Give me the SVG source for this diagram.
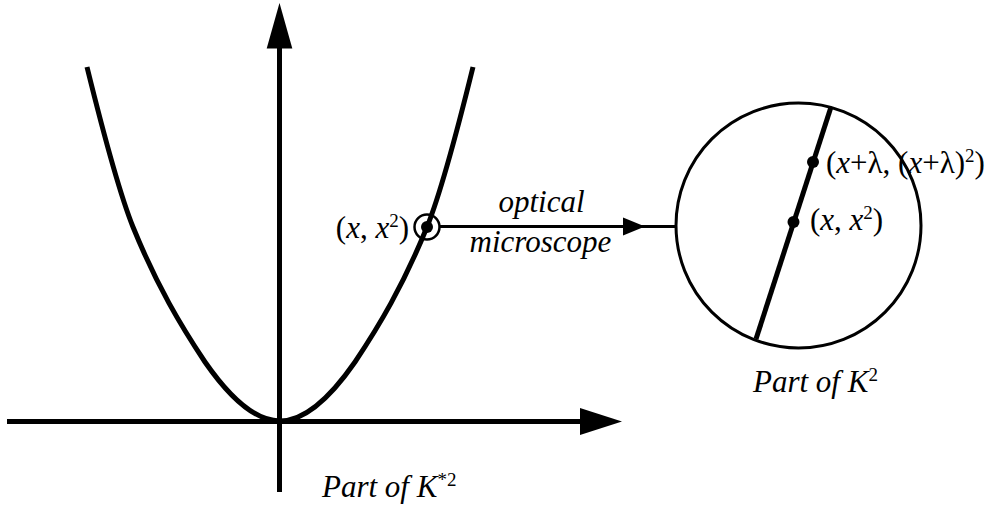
<svg xmlns="http://www.w3.org/2000/svg" width="997" height="506" viewBox="0 0 997 506" font-family="'Liberation Serif', 'Times New Roman', serif">
<style>
.t{font-family:'Liberation Serif','Times New Roman',serif;font-size:31px;fill:#000}
.it{font-style:italic}
.sup{font-size:19px;font-style:normal}
.thick{stroke:#000;stroke-width:5;fill:none}
.thin{stroke:#000;stroke-width:3;fill:none}
</style>
<rect width="997" height="506" fill="#fff"/>
<g id="connectors">
  <g id="x-axis">
    <line x1="7" y1="421.5" x2="584" y2="421.5" class="thick"/>
    <polygon points="580,408 580,435 622,421.5" fill="#000"/>
  </g>
  <g id="y-axis">
    <line x1="279.5" y1="492" x2="279.5" y2="44" class="thick"/>
    <polygon points="279.5,3 266.7,48.5 292.3,48.5" fill="#000"/>
  </g>
  <g id="microscope-arrow">
    <line x1="440" y1="226.5" x2="628" y2="226.5" class="thin"/>
    <polygon points="623,217.5 623,235.5 645,226.5" fill="#000"/>
    <line x1="640" y1="226.5" x2="677" y2="226.5" class="thin"/>
  </g>
</g>
<g id="parabola">
  <path class="thick" d="M87,67 C102.3,129 117.7,189 133,227 C157,286 181,326 205,362 C230,398 255,421 280,421 C305,421 330,398 355,362 C379,326 403,286 427,227 C442.3,189 457.7,129 473,67"/>
</g>
<g id="point-node">
  <circle cx="427" cy="227" r="12.5" fill="none" stroke="#000" stroke-width="2.5"/>
  <circle cx="427" cy="227" r="6" fill="#000"/>
  <text class="t" font-family="Liberation Serif" x="409" y="238" text-anchor="end">(<tspan class="it">x</tspan>, <tspan class="it">x</tspan><tspan class="sup" dy="-11">2</tspan><tspan dy="11">)</tspan></text>
</g>
<g id="microscope-label">
  <text class="t it" font-family="Liberation Serif" x="541.5" y="212" text-anchor="middle">optical</text>
  <text class="t it" font-family="Liberation Serif" x="540.5" y="252" text-anchor="middle">microscope</text>
</g>
<g id="lens-view">
  <circle cx="798.5" cy="225.5" r="122.5" fill="none" stroke="#000" stroke-width="3"/>
  <line x1="831" y1="107" x2="756" y2="339" class="thick"/>
  <circle cx="813" cy="162" r="6" fill="#000"/>
  <circle cx="793.5" cy="222" r="6" fill="#000"/>
  <text class="t" font-family="Liberation Serif" x="826" y="173">(<tspan class="it">x</tspan>+λ, (<tspan class="it">x</tspan>+λ)<tspan class="sup" dy="-11">2</tspan><tspan dy="11">)</tspan></text>
  <text class="t" font-family="Liberation Serif" x="810" y="230">(<tspan class="it">x</tspan>, <tspan class="it">x</tspan><tspan class="sup" dy="-11">2</tspan><tspan dy="11">)</tspan></text>
</g>
<g id="caption-left">
  <text class="t" font-family="Liberation Serif" x="322" y="497"><tspan class="it">Part of K</tspan><tspan class="sup" dy="-11">*2</tspan></text>
</g>
<g id="caption-right">
  <text class="t" font-family="Liberation Serif" x="753" y="392"><tspan class="it">Part of K</tspan><tspan class="sup" dy="-11">2</tspan></text>
</g>
</svg>
